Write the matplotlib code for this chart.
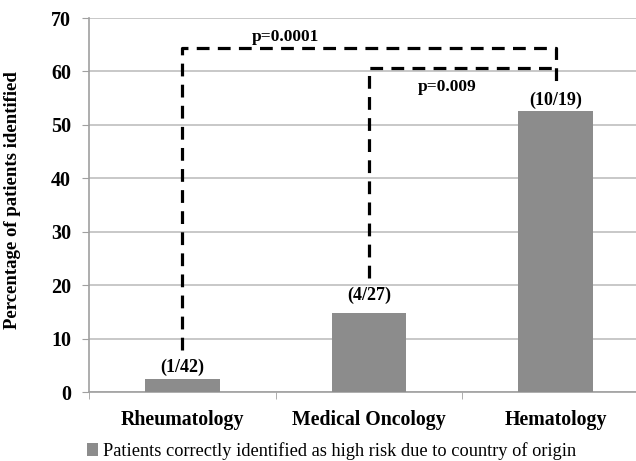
import matplotlib
matplotlib.use("Agg")
import matplotlib.pyplot as plt
from matplotlib.patches import Patch

categories = ["Rheumatology", "Medical Oncology", "Hematology"]
values = [2.38, 14.81, 52.63]
count_labels = ["(1/42)", "(4/27)", "(10/19)"]
legend_label = "Patients correctly identified as high risk due to country of origin"
yticks = [0, 10, 20, 30, 40, 50, 60, 70]

# significance brackets: (from idx, to idx, left bottom y, top y, right bottom y, label, label x, label y)
brackets = [
    (0, 2, 7.9, 64.4, 58.0, "p=0.0001", 0.55, 66.4),
    (1, 2, 21.3, 60.6, 60.6, "p=0.009", 1.42, 57.1),
]

plt.rcParams['font.family'] = ['Liberation Serif', 'DejaVu Serif']

fig = plt.figure(figsize=(6.36, 4.61), dpi=100)
ax = fig.add_axes([89/636, 69/461, 560/636, 374/461])

bar_color = "#8c8c8c"
x = list(range(len(categories)))
ax.bar(x, values, width=0.40, color=bar_color, zorder=3)

ax.set_xlim(-0.5, 2.5)
ax.set_ylim(0, 70)
ax.set_yticks(yticks)
ax.set_yticklabels([str(t) for t in yticks], fontsize=14.5, fontweight='bold')
ax.set_xticks(x)
ax.set_xticklabels(categories, fontsize=14.3, fontweight='bold')
ax.tick_params(axis='x', length=0, pad=13)
ax.tick_params(axis='y', length=5, color="#a0a0a0", pad=8)
ax.set_xticks([-0.5, 0.5, 1.5, 2.5], minor=True)
ax.tick_params(axis='x', which='minor', length=5, color="#a0a0a0")

ax.grid(axis='y', color="#bfbfbf", linewidth=1.2, zorder=0)
for s in ['top', 'right']:
    ax.spines[s].set_visible(False)
ax.spines['left'].set_color("#a0a0a0")
ax.spines['bottom'].set_color("#a0a0a0")
ax.spines['left'].set_linewidth(1.2)
ax.spines['bottom'].set_linewidth(1.2)

ax.set_ylabel("Percentage of patients identified", fontsize=13.5, fontweight='bold', labelpad=8)
ax.yaxis.set_label_coords(-(89 - 21) / 560, (461 - 200 - 69) / 374)

label_y = [4.6, 18.0, 54.6]
for xi, ly, lab in zip(x, label_y, count_labels):
    ax.text(xi, ly, lab, ha='center', va='center', fontsize=13, fontweight='bold', zorder=5)

for i0, i1, yb0, yt, yb1, lab, lx, ly in brackets:
    ax.plot([i0, i0, i1, i1], [yb0, yt, yt, yb1], color='black', linestyle=(0, (4, 2.6)),
            linewidth=2.3, zorder=4)
    ax.text(lx, ly, lab, ha='center', va='center', fontsize=12.5, fontweight='bold')

handles = [Patch(facecolor=bar_color, edgecolor='none')]
fig.legend(handles, [legend_label], loc='center left', bbox_to_anchor=(70/636, 1 - 451/461),
           frameon=False, fontsize=13.2, handlelength=0.65, handleheight=0.65, handletextpad=0.25)

fig.savefig("out.png", dpi=100)
